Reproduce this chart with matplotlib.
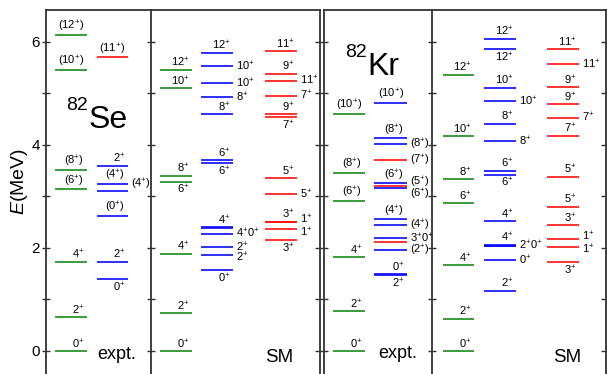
import matplotlib
matplotlib.use('Agg')
import matplotlib.pyplot as plt

plt.rcParams['font.family'] = ['Liberation Sans', 'DejaVu Sans']
plt.rcParams['mathtext.fontset'] = 'custom'
plt.rcParams['mathtext.rm'] = 'Liberation Sans'
plt.rcParams['mathtext.it'] = 'Liberation Sans:italic'

# ---------------- data (MeV) ----------------
# 82Se experiment
se_exp_g_E = [0.0, 0.654, 1.735, 3.146, 3.52, 5.46, 6.14]
se_exp_g_lab = ['0+', '2+', '4+', '(6+)', '(8+)', '(10+)', '(12+)']
se_exp_g_pos = ['a', 'a', 'a', 'a', 'a', 'a', 'a']
se_exp_s_E = [1.40, 1.735, 2.63, 3.11, 3.245, 3.60, 5.70]
se_exp_s_lab = ['0+', '2+', '(0+)', '(4+)', '(4+)', '2+', '(11+)']
se_exp_s_pos = ['b', 'a', 'a', 'ruu', 'a', 'a', 'a']
se_exp_s_col = ['b', 'b', 'b', 'b', 'b', 'b', 'r']

# 82Se shell model
se_sm_g_E = [0.0, 0.73, 1.89, 3.29, 3.40, 5.10, 5.46]
se_sm_g_lab = ['0+', '2+', '4+', '6+', '8+', '10+', '12+']
se_sm_g_pos = ['a', 'a', 'a', 'b', 'a', 'a', 'a']
se_sm_b_E = [1.573, 1.87, 2.02, 2.28, 2.39, 2.405, 3.64, 3.70, 4.60, 4.93, 5.20, 5.53, 5.79]
se_sm_b_lab = ['0+', '2+', '2+', '4+0+', '', '4+', '6+', '6+', '8+', '8+', '10+', '10+', '12+']
se_sm_b_pos = ['b', 'rd', 'r', 'r', '', 'a', 'b', 'a', 'a', 'r', 'r', 'r', 'a']
se_sm_r_E = [2.15, 2.36, 2.505, 2.51, 3.04, 3.35, 4.535, 4.60, 4.96, 5.25, 5.38, 5.82]
se_sm_r_lab = ['3+', '1+', '1+', '3+', '5+', '5+', '7+', '9+', '7+', '11+', '9+', '11+']
se_sm_r_pos = ['b', 'rd', 'ru', 'a', 'r', 'a', 'b', 'a', 'r', 'r', 'a', 'a']

# 82Kr experiment
kr_exp_g_E = [0.0, 0.776, 1.821, 2.92, 3.46, 4.61]
kr_exp_g_lab = ['0+', '2+', '4+', '(6+)', '(8+)', '(10+)']
kr_exp_g_pos = ['a', 'a', 'a', 'a', 'a', 'a']
kr_exp_s_E = [1.475, 1.49, 1.96, 2.12, 2.19, 2.44, 2.56, 3.17, 3.21, 3.26, 3.71, 4.01, 4.13, 4.82]
kr_exp_s_lab = ['2+', '0+', '(2+)', '', '3+0+', '(4+)', '(4+)', '(6+)', '(5+)', '(6+)',
                '(7+)', '(8+)', '(8+)', '(10+)']
kr_exp_s_pos = ['b', 'a', 'r', '', 'r', 'r', 'a', 'rdd', 'ru', 'a', 'r', 'r', 'a', 'a']
kr_exp_s_col = ['b', 'b', 'b', 'r', 'b', 'b', 'b', 'b', 'r', 'b', 'r', 'b', 'b', 'b']

# 82Kr shell model
kr_sm_g_E = [0.0, 0.63, 1.66, 2.87, 3.33, 4.17, 5.36]
kr_sm_g_lab = ['0+', '2+', '4+', '6+', '8+', '10+', '12+']
kr_sm_g_pos = ['a', 'a', 'a', 'a', 'a', 'a', 'a']
kr_sm_b_E = [1.17, 1.76, 2.03, 2.045, 2.065, 2.52, 3.42, 3.50, 4.07, 4.41, 4.85, 5.11, 5.86, 6.06]
kr_sm_b_lab = ['2+', '0+', '', '2+0+', '4+', '4+', '6+', '6+', '8+', '8+', '10+', '10+', '12+', '12+']
kr_sm_b_pos = ['a', 'r', '', 'r', 'a', 'a', 'b', 'a', 'r', 'a', 'r', 'a', 'b', 'a']
kr_sm_r_E = [1.73, 2.02, 2.17, 2.44, 2.80, 3.38, 4.18, 4.53, 4.79, 5.12, 5.57, 5.86]
kr_sm_r_lab = ['3+', '1+', '1+', '3+', '5+', '5+', '7+', '7+', '9+', '9+', '11+', '11+']
kr_sm_r_pos = ['b', 'rd', 'ru', 'a', 'a', 'a', 'a', 'r', 'a', 'a', 'r', 'a']

yticks = [0, 1, 2, 3, 4, 5, 6]
yticklabels = ['0', '', '2', '', '4', '', '6']

# ---------------- styling ----------------
COL = {'g': '#1a8a1a', 'b': '#0a0aff', 'r': '#ff1010'}
W, H = 607, 374
YLIM = (-0.447, 6.62)
SPINE = '#333333'
LFS = 8

fig = plt.figure(figsize=(W / 100, H / 100), dpi=100)


def add_ax(l, r):
    ax = fig.add_axes([l / W, 0, (r - l) / W, 1 - 10 / H])
    ax.set_xlim(0, r - l)
    ax.set_ylim(*YLIM)
    ax.set_facecolor('none')
    ax.set_xticks([])
    ax.set_yticks(yticks)
    ax.set_yticklabels([])
    ax.spines['bottom'].set_visible(False)
    for s in ax.spines.values():
        s.set_color(SPINE)
        s.set_linewidth(1.3)
    ax.tick_params(axis='y', color=SPINE, width=1.0, left=False, right=False)
    return ax


def fmt(s):
    return s.replace('+', r'$^{+}$')


def column(ax, x0, x1, E, labs, pos, cols):
    for e, lab, p, c in zip(E, labs, pos, cols):
        ax.plot([x0, x1], [e, e], color=COL[c], lw=1.2, solid_capstyle='butt')
        if not lab:
            continue
        t = fmt(lab)
        if p == 'a':
            ax.annotate(t, (x1, e), xytext=(-2, 0.3), textcoords='offset points',
                        ha='right', va='bottom', fontsize=LFS)
        elif p == 'b':
            ax.annotate(t, (x1, e), xytext=(-2, -1.0), textcoords='offset points',
                        ha='right', va='top', fontsize=LFS)
        else:
            dy = {'r': 0, 'ru': 2.0, 'rd': -2.0, 'ruu': 4.5, 'rdd': -5}[p]
            ax.annotate(t, (x1, e), xytext=(2.5, dy), textcoords='offset points',
                        ha='left', va='center', fontsize=LFS)


# 82Se expt
a1 = add_ax(46, 151)
a1.tick_params(axis='y', left=True, right=True, direction='inout', length=6,
               labelleft=True, labelsize=11, pad=1.5)
a1.set_yticklabels(yticklabels)
column(a1, 9, 41, se_exp_g_E, se_exp_g_lab, se_exp_g_pos, ['g'] * len(se_exp_g_E))
column(a1, 51, 82, se_exp_s_E, se_exp_s_lab, se_exp_s_pos, se_exp_s_col)
a1.text(42, 4.68, '82', fontsize=14, ha='right', va='baseline')
a1.text(43, 4.33, 'Se', fontsize=23, ha='left', va='baseline')
a1.text(51, -0.15, 'expt.', fontsize=13, ha='left', va='baseline')

# 82Se SM
a2 = add_ax(151, 320)
a2.spines['left'].set_visible(False)
a2.tick_params(axis='y', right=True, direction='in', length=3.6)
column(a2, 9, 41, se_sm_g_E, se_sm_g_lab, se_sm_g_pos, ['g'] * len(se_sm_g_E))
column(a2, 50, 82, se_sm_b_E, se_sm_b_lab, se_sm_b_pos, ['b'] * len(se_sm_b_E))
column(a2, 114, 146, se_sm_r_E, se_sm_r_lab, se_sm_r_pos, ['r'] * len(se_sm_r_E))
a2.text(114, -0.21, 'SM', fontsize=13.5, ha='left', va='baseline')

# 82Kr expt
a3 = add_ax(324, 432)
a3.tick_params(axis='y', left=True, right=True, direction='inout', length=6)
column(a3, 9, 41, kr_exp_g_E, kr_exp_g_lab, kr_exp_g_pos, ['g'] * len(kr_exp_g_E))
column(a3, 50, 83, kr_exp_s_E, kr_exp_s_lab, kr_exp_s_pos, kr_exp_s_col)
a3.text(43, 5.71, '82', fontsize=14, ha='right', va='baseline')
a3.text(43, 5.36, 'Kr', fontsize=23, ha='left', va='baseline')
a3.text(54, -0.14, 'expt.', fontsize=13, ha='left', va='baseline')

# 82Kr SM
a4 = add_ax(432, 606)
a4.spines['left'].set_visible(False)
a4.tick_params(axis='y', right=True, direction='in', length=3.6)
column(a4, 11, 42, kr_sm_g_E, kr_sm_g_lab, kr_sm_g_pos, ['g'] * len(kr_sm_g_E))
column(a4, 52, 84, kr_sm_b_E, kr_sm_b_lab, kr_sm_b_pos, ['b'] * len(kr_sm_b_E))
column(a4, 115, 147, kr_sm_r_E, kr_sm_r_lab, kr_sm_r_pos, ['r'] * len(kr_sm_r_E))
a4.text(121, -0.21, 'SM', fontsize=13.5, ha='left', va='baseline')

fig.text(20 / W, 1 - 182 / H, r'$E$(MeV)', rotation=90, fontsize=14,
         ha='center', va='center')

fig.savefig('out.png', dpi=100)
